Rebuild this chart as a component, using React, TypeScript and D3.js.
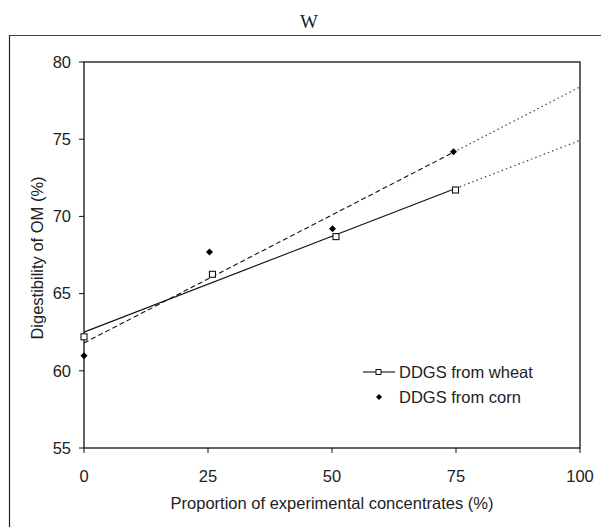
import React from "react";
import * as d3 from "d3";

const title = "W";
const xTicks = [0, 25, 50, 75, 100];
const yTicks = [55, 60, 65, 70, 75, 80];
const wheatX = [0, 25.9, 50.8, 74.9];
const wheatY = [62.2, 66.25, 68.69, 71.71];
const cornX = [0, 25.3, 50.1, 74.5];
const cornY = [60.98, 67.7, 69.2, 74.19];
const legendLabels = ["DDGS from wheat", "DDGS from corn"];
const xLabel = "Proportion of experimental concentrates (%)";
const yLabel = "Digestibility of OM (%)";

function fit(xs: number[], ys: number[]) {
  const mx = d3.mean(xs)!;
  const my = d3.mean(ys)!;
  let sxy = 0, sxx = 0;
  xs.forEach((x, i) => {
    sxy += (x - mx) * (ys[i] - my);
    sxx += (x - mx) * (x - mx);
  });
  const b = sxy / sxx;
  const a = my - b * mx;
  return (x: number) => a + b * x;
}

export default function App() {
  const W = 601, H = 527;
  const L = 84, R = 580, T = 62, B = 448;
  const x = d3.scaleLinear().domain([0, 100]).range([L, R]);
  const y = d3.scaleLinear().domain([55, 80]).range([B, T]);
  const fw = fit(wheatX, wheatY);
  const fc = fit(cornX, cornY);
  const seg = (f: (v: number) => number, a: number, b: number) =>
    d3.line<number>().x((v) => x(v)).y((v) => y(f(v)))([a, b]) || "";
  const wMax = d3.max(wheatX)!;
  const cMax = d3.max(cornX)!;
  const font = "'Liberation Sans', Arial, sans-serif";
  const fs = 16.5;
  const diamond = (cx: number, cy: number, r: number) =>
    `M${cx},${cy - r}L${cx + r},${cy}L${cx},${cy + r}L${cx - r},${cy}Z`;
  return (
    <svg
      width={W}
      height={H}
      style={{ position: "absolute", left: 0, top: 0, background: "#fff" }}
    >
      <rect x={0} y={0} width={W} height={H} fill="#fff" />
      <text
        x={309}
        y={28}
        textAnchor="middle"
        fontFamily="'Liberation Serif', 'Times New Roman', serif"
        fontSize={19}
        fill="#222"
      >
        {title}
      </text>
      {/* outer frame */}
      <line x1={9} y1={35.5} x2={W} y2={35.5} stroke="#444" strokeWidth={1.2} />
      <line x1={9.5} y1={35} x2={9.5} y2={H} stroke="#222" strokeWidth={1.2} />
      {/* plot box */}
      <rect x={L} y={T} width={R - L} height={B - T} fill="none" stroke="#111" strokeWidth={1.3} />
      {/* y ticks */}
      {yTicks.map((t) => (
        <g key={"y" + t}>
          <line x1={L - 5} x2={L} y1={y(t)} y2={y(t)} stroke="#111" strokeWidth={1} />
          <text
            x={71}
            y={y(t)}
            dy="0.35em"
            textAnchor="end"
            fontFamily={font}
            fontSize={fs}
            fill="#222"
          >
            {t}
          </text>
        </g>
      ))}
      {/* x ticks */}
      {xTicks.map((t) => (
        <g key={"x" + t}>
          <line x1={x(t)} x2={x(t)} y1={B} y2={B + 5} stroke="#111" strokeWidth={1} />
          <text
            x={x(t)}
            y={482}
            textAnchor="middle"
            fontFamily={font}
            fontSize={fs}
            fill="#222"
          >
            {t}
          </text>
        </g>
      ))}
      <text
        x={(L + R) / 2}
        y={509}
        textAnchor="middle"
        fontFamily={font}
        fontSize={fs}
        fill="#222"
      >
        {xLabel}
      </text>
      <text
        transform={`translate(43,${(T + B) / 2 + 3}) rotate(-90)`}
        textAnchor="middle"
        fontFamily={font}
        fontSize={fs}
        fill="#222"
      >
        {yLabel}
      </text>
      {/* regression lines */}
      <path d={seg(fw, 0, wMax)} stroke="#111" strokeWidth={1.1} fill="none" />
      <path d={seg(fw, wMax, 100)} stroke="#444" strokeWidth={1.2} strokeDasharray="1.5,3" fill="none" />
      <path d={seg(fc, 0, cMax)} stroke="#111" strokeWidth={1.1} strokeDasharray="5,3" fill="none" />
      <path d={seg(fc, cMax, 100)} stroke="#444" strokeWidth={1.2} strokeDasharray="1.5,3" fill="none" />
      {/* points */}
      {cornX.map((v, i) => (
        <path key={"c" + i} d={diamond(x(v), y(cornY[i]), 3.5)} fill="#000" />
      ))}
      {wheatX.map((v, i) => (
        <rect
          key={"w" + i}
          x={x(v) - 3}
          y={y(wheatY[i]) - 3}
          width={6}
          height={6}
          fill="#fff"
          stroke="#111"
          strokeWidth={1.1}
        />
      ))}
      {/* legend */}
      <line x1={363} x2={395} y1={372} y2={372} stroke="#111" strokeWidth={1.1} />
      <rect x={376} y={369.5} width={5} height={5} fill="#fff" stroke="#111" strokeWidth={1} />
      <text x={399} y={378} fontFamily={font} fontSize={fs} fill="#222">
        {legendLabels[0]}
      </text>
      <path d={diamond(379, 397, 3)} fill="#000" />
      <text x={399} y={402.5} fontFamily={font} fontSize={fs} fill="#222">
        {legendLabels[1]}
      </text>
    </svg>
  );
}
